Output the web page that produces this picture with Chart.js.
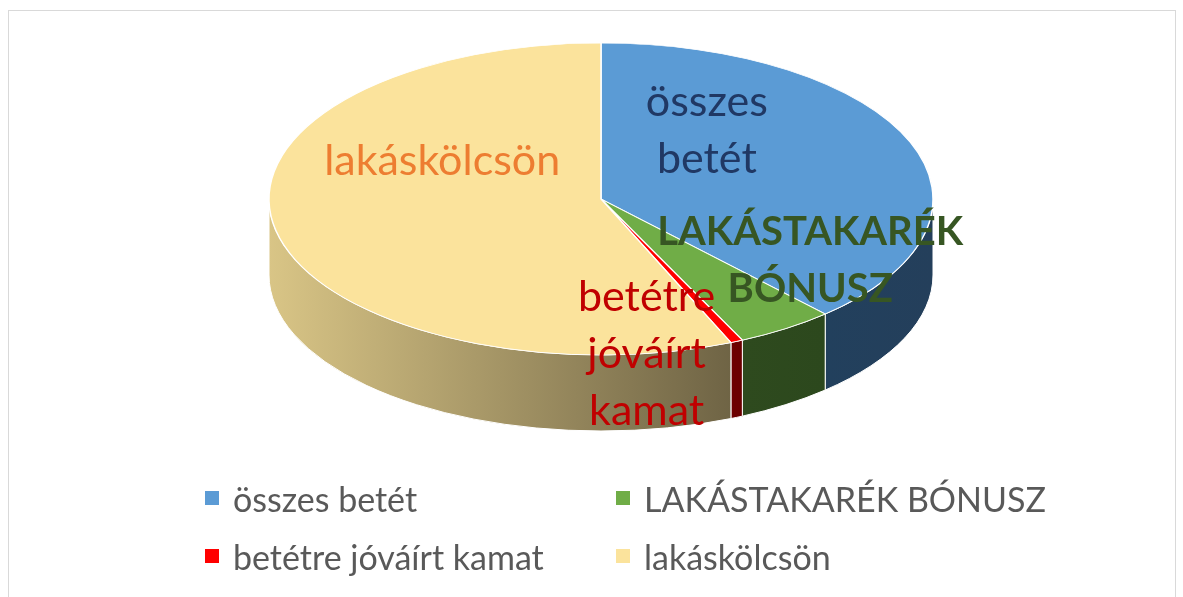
<!DOCTYPE html>
<html lang="hu">
<head>
<meta charset="utf-8">
<title>Lakástakarék</title>
<script src="https://cdn.jsdelivr.net/npm/chart.js@4.4.1/dist/chart.umd.min.js"></script>
<style>
  html, body { margin: 0; padding: 0; background: #fff; }
  #wrap { position: relative; width: 1183px; height: 597px; overflow: hidden; font-family: Lato, sans-serif; }
  #frame { position: absolute; left: 8px; top: 10px; width: 1168px; height: 620px; border: 1px solid #d9d9d9; box-sizing: border-box; }
  #chartBox { position: absolute; left: 0; top: 0; width: 1183px; height: 597px; }
  #legend { position: absolute; left: 205px; top: 470px; display: grid; grid-template-columns: 411px auto; grid-auto-rows: 58px; }
  .item { line-height: 58px; font-size: 34px; color: #595959; white-space: nowrap; }
  .box { display: inline-block; width: 14px; height: 14px; margin-right: 14px; vertical-align: middle; position: relative; top: -5px; }
</style>
</head>
<body>
<div id="wrap">
  <div id="frame"></div>
  <div id="chartBox"><canvas id="pieChart"></canvas></div>
  <div id="legend"></div>
</div>
<script>
// Data (shares, in %)
const categories = ['összes betét', 'LAKÁSTAKARÉK BÓNUSZ', 'betétre jóváírt kamat', 'lakáskölcsön'];
const shares = [38.2, 4.8, 0.6, 56.4];

// Colours
const topColors = ['#5B9BD5', '#70AD47', '#FF0000', '#FBE39C'];
const sideColors = [
  ['#22405D', '#243F5B'],
  ['#2E4A1E', '#2C481D'],
  ['#6E0000', '#6A0000'],
  ['#D9C586', '#6F6445']
];
const labelColors = ['#203864', '#375623', '#C00000', '#ED7D31'];
const labelBold = [false, true, false, false];
// where each slice label sits: angle from 12 o'clock (deg) and share of the radius
const labelPlace = [
  { angle: 35.8, dist: 0.545 },
  { angle: 121.6, dist: 0.74 },
  { angle: 172.1, dist: 1.0 },
  { angle: 297, dist: 0.537 }
];

const TILT = 156 / 332;  // vertical squash of the pie top
const DEPTH = 76;        // thickness of the pie side
const LABEL_FONT = 43;
const LABEL_FONT_BOLD = 40;
const LABEL_LINE = 57;

// Draw the 3D side walls, squash the top face, then put the labels on
const pie3d = {
  id: 'pie3d',
  beforeDatasetsDraw(chart) {
    const ctx = chart.ctx;
    const arcs = chart.getDatasetMeta(0).data;
    arcs.forEach((arc, i) => {
      const a = Math.max(arc.startAngle, 0);
      const b = Math.min(arc.endAngle, Math.PI);
      if (b <= a) return;
      const rx = arc.outerRadius, ry = rx * TILT;
      const g = ctx.createLinearGradient(arc.x + rx * Math.cos(b), 0, arc.x + rx * Math.cos(a) + 0.01, 0);
      g.addColorStop(0, sideColors[i][0]);
      g.addColorStop(1, sideColors[i][1]);
      ctx.beginPath();
      ctx.ellipse(arc.x, arc.y, rx, ry, 0, a, b);
      ctx.ellipse(arc.x, arc.y + DEPTH, rx, ry, 0, b, a, true);
      ctx.closePath();
      ctx.fillStyle = g;
      ctx.fill();
      ctx.strokeStyle = '#fff';
      ctx.lineWidth = 1;
      ctx.stroke();
    });
    const c = arcs[0];
    ctx.save();
    ctx.translate(c.x, c.y);
    ctx.scale(1, TILT);
    ctx.translate(-c.x, -c.y);
  },
  afterDatasetsDraw(chart) {
    const ctx = chart.ctx;
    ctx.restore();
    const arcs = chart.getDatasetMeta(0).data;
    ctx.save();
    ctx.textAlign = 'center';
    ctx.textBaseline = 'alphabetic';
    arcs.forEach((arc, i) => {
      const p = labelPlace[i];
      const ang = (p.angle - 90) * Math.PI / 180;
      const rx = arc.outerRadius, ry = rx * TILT;
      const lx = arc.x + p.dist * rx * Math.cos(ang);
      const ly = arc.y + p.dist * ry * Math.sin(ang);
      const lines = categories[i].split(' ');
      ctx.font = labelBold[i] ? 'bold ' + LABEL_FONT_BOLD + 'px Lato' : LABEL_FONT + 'px Lato';
      ctx.fillStyle = labelColors[i];
      lines.forEach((t, j) => {
        ctx.fillText(t, lx, ly + (j - (lines.length - 1) / 2) * LABEL_LINE + 14);
      });
    });
    ctx.restore();
  }
};

const ctx = document.getElementById('pieChart').getContext('2d');
const pieChart = new Chart(ctx, {
  type: 'pie',
  data: {
    labels: categories,
    datasets: [{
      data: shares,
      backgroundColor: topColors,
      borderColor: '#ffffff',
      borderWidth: 1.5,
      clip: false
    }]
  },
  options: {
    responsive: true,
    maintainAspectRatio: false,
    animation: false,
    radius: 332,
    layout: { padding: { left: 19, right: 0, top: 0, bottom: 199 } },
    plugins: {
      legend: { display: false },
      tooltip: { enabled: false }
    },
    events: []
  },
  plugins: [pie3d]
});

// HTML legend, two columns like the original
const legend = document.getElementById('legend');
categories.forEach((name, i) => {
  const item = document.createElement('div');
  item.className = 'item';
  const box = document.createElement('span');
  box.className = 'box';
  box.style.background = topColors[i];
  item.appendChild(box);
  item.appendChild(document.createTextNode(name));
  legend.appendChild(item);
});
</script>
</body>
</html>
